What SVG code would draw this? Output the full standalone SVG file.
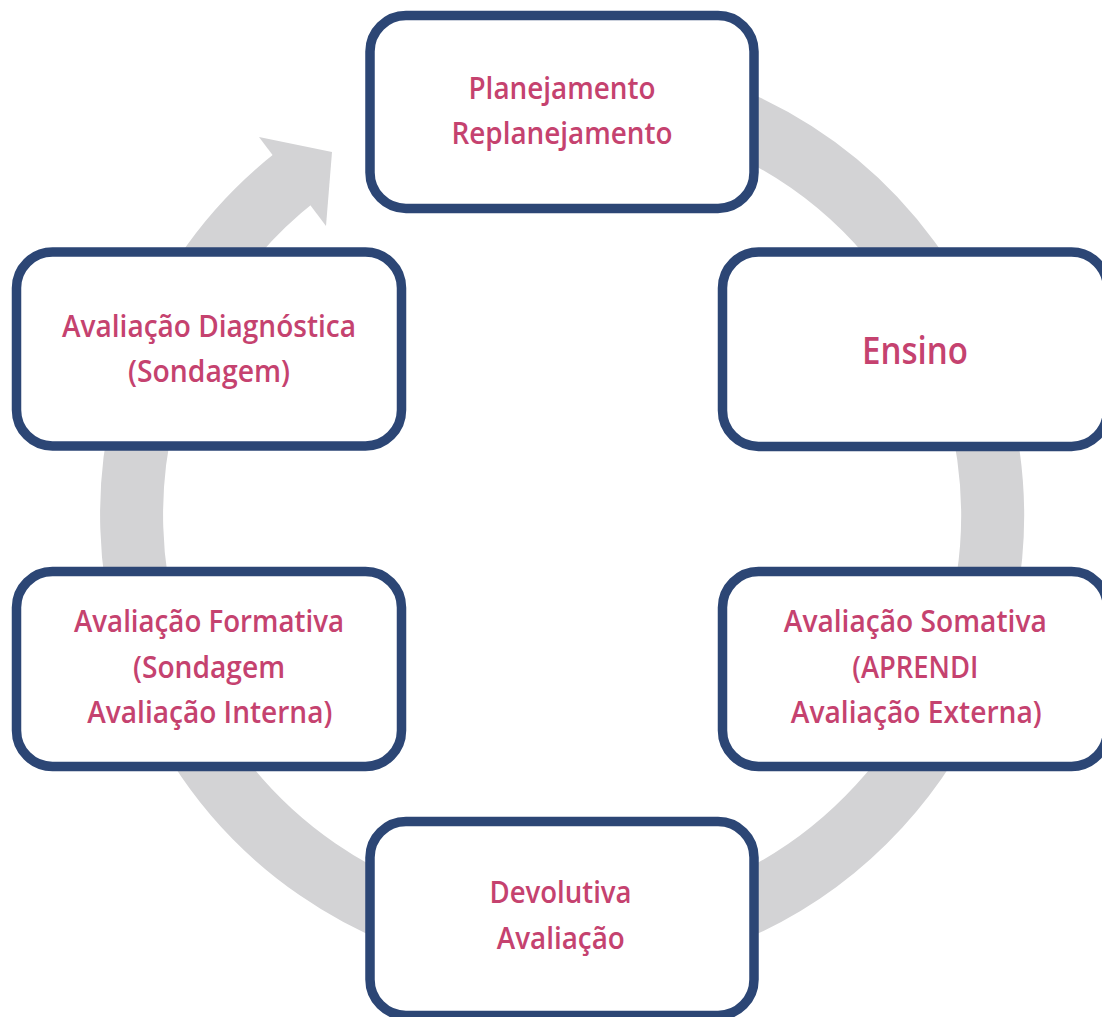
<svg xmlns="http://www.w3.org/2000/svg" width="1102" height="1017" viewBox="0 0 1102 1017">
<style>
.box{fill:#ffffff;stroke:#2c4675;stroke-width:9.5}
.t{font-family:"Open Sans","Noto Sans","Liberation Sans",sans-serif;font-weight:600;font-size:31px;fill:#c5426f;text-anchor:middle}
.big{font-size:38px}
</style>
<rect width="1102" height="1017" fill="#ffffff"/>
<g id="connectors">
<path d="M 562 84.5 A 430.5 430.5 0 1 1 297 175.8" fill="none" stroke="#d3d3d5" stroke-width="63"/>
<polygon points="259,137 332,152 326,226" fill="#d3d3d5"/>
</g>
<g id="planejamento">
<rect class="box" x="370" y="15.5" width="384" height="193" rx="36"/>
<text class="t" x="562" y="99" textLength="187" lengthAdjust="spacingAndGlyphs">Planejamento</text>
<text class="t" x="562" y="143.5" textLength="221" lengthAdjust="spacingAndGlyphs">Replanejamento</text>
</g>
<g id="ensino">
<rect class="box" x="722.5" y="252" width="385" height="194.5" rx="36"/>
<text class="t big" x="915" y="364" textLength="106" lengthAdjust="spacingAndGlyphs">Ensino</text>
</g>
<g id="diagnostica">
<rect class="box" x="16.5" y="252" width="385" height="194" rx="36"/>
<text class="t" x="209" y="336.7" textLength="294" lengthAdjust="spacingAndGlyphs">Avaliação Diagnóstica</text>
<text class="t" x="209" y="382" textLength="162" lengthAdjust="spacingAndGlyphs">(Sondagem)</text>
</g>
<g id="formativa">
<rect class="box" x="16.5" y="571.5" width="385" height="195" rx="36"/>
<text class="t" x="209" y="631.7" textLength="270" lengthAdjust="spacingAndGlyphs">Avaliação Formativa</text>
<text class="t" x="209" y="678" textLength="152" lengthAdjust="spacingAndGlyphs">(Sondagem</text>
<text class="t" x="209.8" y="723.3" textLength="245" lengthAdjust="spacingAndGlyphs">Avaliação Interna)</text>
</g>
<g id="somativa">
<rect class="box" x="722.5" y="571.5" width="385" height="195" rx="36"/>
<text class="t" x="915.3" y="631.7" textLength="263" lengthAdjust="spacingAndGlyphs">Avaliação Somativa</text>
<text class="t" x="915.3" y="678" textLength="126" lengthAdjust="spacingAndGlyphs">(APRENDI</text>
<text class="t" x="916.3" y="723.3" textLength="251" lengthAdjust="spacingAndGlyphs">Avaliação Externa)</text>
</g>
<g id="devolutiva">
<rect class="box" x="370" y="821.5" width="384" height="194" rx="36"/>
<text class="t" x="560.5" y="903.3" textLength="142" lengthAdjust="spacingAndGlyphs">Devolutiva</text>
<text class="t" x="560.8" y="949.3" textLength="128" lengthAdjust="spacingAndGlyphs">Avaliação</text>
</g>
</svg>
